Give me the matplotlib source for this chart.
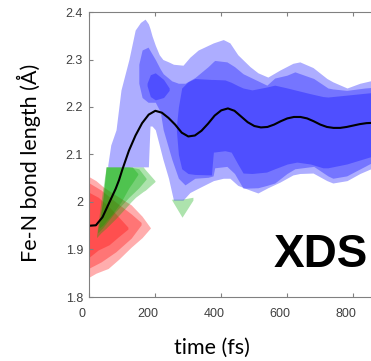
import matplotlib
matplotlib.use("Agg")
import matplotlib.pyplot as plt
import matplotlib.transforms as mtransforms
import numpy as np

# ---------------------------------------------------------------------------
# Data (time in fs, Fe-N bond length in Angstrom)
# each band: time, lower edge, upper edge (light = outer, dark = inner)
# ---------------------------------------------------------------------------

# red (initial state)
red_light_t = [0, 20, 42, 57, 90, 127, 160, 185]
red_light_lo = [1.842, 1.850, 1.856, 1.860, 1.880, 1.905, 1.925, 1.945]
red_light_hi = [2.053, 2.045, 2.032, 2.025, 2.010, 1.994, 1.970, 1.946]

red_mid_t = [0, 36, 80, 127, 157]
red_mid_lo = [1.861, 1.874, 1.895, 1.924, 1.952]
red_mid_hi = [2.040, 2.025, 2.000, 1.975, 1.957]

red_dark_t = [0, 27, 60, 87, 117]
red_dark_lo = [1.884, 1.899, 1.910, 1.926, 1.943]
red_dark_hi = [2.020, 2.010, 1.990, 1.970, 1.947]

# green (intermediate)
green_light_t = [22, 35, 51, 80, 100, 126, 140, 163, 170, 199]
green_light_lo = [1.925, 1.935, 1.945, 1.965, 1.980, 2.000, 2.010, 2.022, 2.025, 2.043]
green_light_hi = [1.930, 2.000, 2.074, 2.074, 2.074, 2.074, 2.074, 2.074, 2.068, 2.045]

green_mid_t = [25, 40, 51, 80, 100, 120, 150, 172]
green_mid_lo = [1.935, 1.945, 1.955, 1.980, 1.995, 2.010, 2.030, 2.048]
green_mid_hi = [1.940, 2.000, 2.074, 2.074, 2.074, 2.074, 2.070, 2.050]

green_dark_t = [30, 42, 51, 70, 96, 120, 130, 147]
green_dark_lo = [1.945, 1.952, 1.960, 1.975, 2.000, 2.030, 2.040, 2.058]
green_dark_hi = [1.950, 2.010, 2.074, 2.074, 2.074, 2.074, 2.074, 2.060]

green_tail_t = [250, 281, 314]
green_tail_lo = [2.004, 1.968, 2.004]
green_tail_hi = [2.006, 2.006, 2.010]

# blue (final state)
blue_light_t = [56, 65, 81, 96, 120, 139, 155, 169, 179, 184, 190, 200, 212, 223,
                240, 255, 284, 305, 330, 376, 406, 426, 450, 487, 511, 541, 578,
                617, 638, 678, 720, 738, 781, 820, 870]
blue_light_lo = [2.074, 2.074, 2.074, 2.074, 2.074, 2.074, 2.074, 2.074, 2.074, 2.160,
                 2.160, 2.152, 2.120, 2.090, 2.050, 2.004, 2.004, 2.020, 2.029, 2.045,
                 2.050, 2.050, 2.035, 2.025, 2.019, 2.030, 2.042, 2.057, 2.060, 2.061,
                 2.045, 2.040, 2.045, 2.060, 2.075]
blue_light_hi = [2.078, 2.120, 2.152, 2.236, 2.300, 2.362, 2.378, 2.385, 2.375, 2.365,
                 2.350, 2.330, 2.310, 2.300, 2.295, 2.290, 2.288, 2.305, 2.320, 2.335,
                 2.342, 2.335, 2.310, 2.285, 2.272, 2.263, 2.278, 2.292, 2.295, 2.283,
                 2.260, 2.253, 2.240, 2.250, 2.258]

blue_mid_t = [150, 160, 178, 200, 215, 224, 250, 270, 290, 320, 360, 375, 380, 417,
              440, 466, 511, 538, 562, 599, 623, 680, 723, 738, 780, 835, 870]
blue_mid_lo = [2.250, 2.220, 2.210, 2.210, 2.190, 2.152, 2.090, 2.050, 2.036, 2.050,
               2.052, 2.055, 2.072, 2.075, 2.060, 2.029, 2.030, 2.035, 2.040, 2.060,
               2.070, 2.075, 2.055, 2.050, 2.055, 2.075, 2.088]
blue_mid_hi = [2.290, 2.320, 2.326, 2.300, 2.280, 2.270, 2.255, 2.250, 2.250, 2.262,
               2.285, 2.295, 2.298, 2.295, 2.285, 2.270, 2.255, 2.246, 2.261, 2.267,
               2.274, 2.260, 2.240, 2.238, 2.235, 2.240, 2.242]

blue_blob_t = [175, 185, 200, 225, 242]
blue_blob_lo = [2.245, 2.222, 2.215, 2.220, 2.235]
blue_blob_hi = [2.250, 2.268, 2.272, 2.258, 2.240]

blue_dark_t = [264, 270, 280, 299, 320, 370, 376, 411, 430, 450, 466, 493, 537, 562,
               600, 629, 670, 708, 723, 780, 851, 870]
blue_dark_lo = [2.150, 2.100, 2.070, 2.060, 2.058, 2.057, 2.105, 2.108, 2.105, 2.080,
                2.061, 2.060, 2.063, 2.070, 2.080, 2.084, 2.080, 2.072, 2.072, 2.080,
                2.095, 2.095]
blue_dark_hi = [2.160, 2.200, 2.240, 2.253, 2.260, 2.258, 2.258, 2.257, 2.252, 2.245,
                2.240, 2.236, 2.242, 2.246, 2.240, 2.235, 2.228, 2.222, 2.221, 2.225,
                2.230, 2.230]

# mean bond length
mean_t = [0, 20, 40, 60, 80, 90, 100, 120, 140, 160, 180, 200, 220, 240, 260, 280,
          300, 320, 340, 360, 380, 400, 420, 440, 460, 480, 500, 520, 540, 560, 580,
          600, 620, 640, 660, 680, 700, 720, 740, 760, 780, 800, 820, 840, 870]
mean_r = [1.950, 1.951, 1.968, 1.998, 2.028, 2.046, 2.068, 2.108, 2.140, 2.166,
          2.184, 2.192, 2.188, 2.177, 2.163, 2.146, 2.138, 2.140, 2.150, 2.165,
          2.182, 2.193, 2.197, 2.192, 2.180, 2.168, 2.160, 2.157, 2.158, 2.163,
          2.170, 2.176, 2.179, 2.179, 2.176, 2.170, 2.163, 2.158, 2.156, 2.156,
          2.158, 2.161, 2.164, 2.166, 2.167]

x_ticks = [0, 200, 400, 600, 800]
y_ticks = [1.8, 1.9, 2.0, 2.1, 2.2, 2.3, 2.4]
y_tick_labels = ["1.8", "1.9", "2", "2.1", "2.2", "2.3", "2.4"]

# ---------------------------------------------------------------------------
fig = plt.figure(figsize=(3.71, 3.61), dpi=100)
ax = fig.add_axes([89.3 / 371, 64 / 361, 330 / 371, 285 / 361])

alpha = 0.32
bands = [
    ("#ff0000", [(red_light_t, red_light_lo, red_light_hi),
                 (red_mid_t, red_mid_lo, red_mid_hi),
                 (red_dark_t, red_dark_lo, red_dark_hi)]),
    ("#00a800", [(green_light_t, green_light_lo, green_light_hi),
                 (green_mid_t, green_mid_lo, green_mid_hi),
                 (green_dark_t, green_dark_lo, green_dark_hi),
                 (green_tail_t, green_tail_lo, green_tail_hi)]),
    ("#0000ff", [(blue_light_t, blue_light_lo, blue_light_hi),
                 (blue_mid_t, blue_mid_lo, blue_mid_hi),
                 (blue_blob_t, blue_blob_lo, blue_blob_hi),
                 (blue_dark_t, blue_dark_lo, blue_dark_hi)]),
]
for color, pieces in bands:
    for t, lo, hi in pieces:
        ax.fill_between(t, lo, hi, color=color, alpha=alpha, lw=0)

ax.plot(mean_t, mean_r, color="black", lw=1.5)

ax.set_xlim(0, 1000)
ax.set_ylim(1.8, 2.4)
ax.set_xticks(x_ticks)
ax.set_yticks(y_ticks)
ax.set_yticklabels(y_tick_labels)

for s in ax.spines.values():
    s.set_color("#808080")
    s.set_linewidth(0.8)
ax.tick_params(direction="in", length=3, width=0.8, color="#808080",
               top=True, right=True, labelcolor="#404040", labelsize=9)
ax.tick_params(axis="x", pad=8)
ax.tick_params(axis="y", pad=4.5)
for lab in ax.get_xticklabels() + ax.get_yticklabels():
    lab.set_family("Liberation Sans")
shift = mtransforms.ScaledTranslation(-7 / 100, 0, fig.dpi_scale_trans)
for lab in ax.get_xticklabels():
    lab.set_transform(lab.get_transform() + shift)

ax.text(845, 1.863, "XDS", ha="right", va="baseline", fontsize=33,
        fontweight="bold", family="Liberation Sans", color="black")

fig.text(211.5 / 371, 1 - 347.5 / 361, "time (fs)", ha="center", va="center",
         fontsize=15.5, family="Lato")
fig.text(28.5 / 371, 1 - 162.5 / 361, "Fe-N bond length (\u00c5)", ha="center",
         va="center", rotation=90, fontsize=15.5, family="Lato")

fig.savefig("out.png", dpi=100)
